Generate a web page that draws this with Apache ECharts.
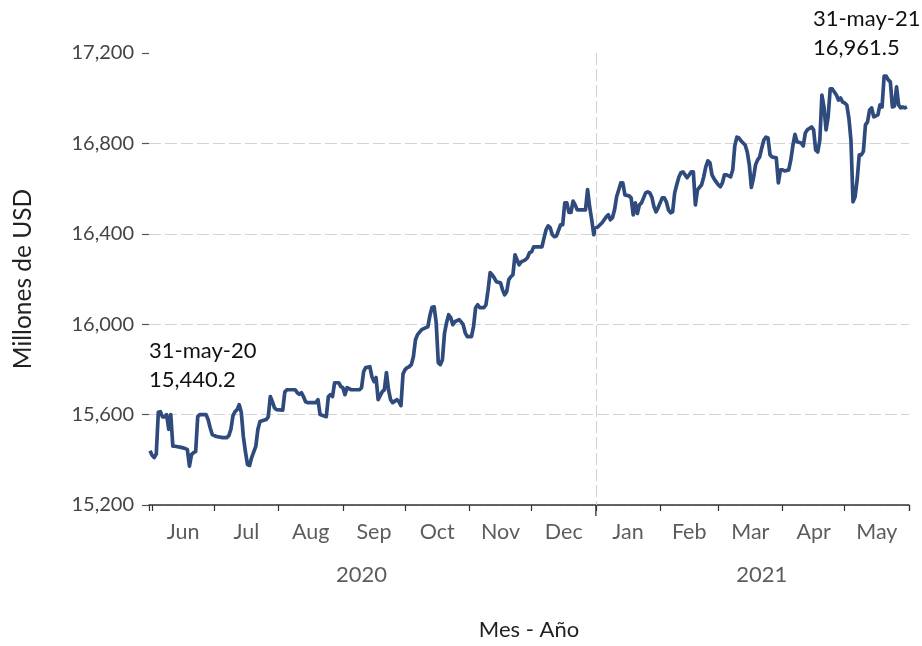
<!DOCTYPE html>
<html>
<head>
<meta charset="utf-8">
<script src="https://cdn.jsdelivr.net/npm/echarts@6/dist/echarts.min.js"></script>
<style>
  html, body { margin: 0; padding: 0; background: #fff; }
  #chart { width: 922px; height: 646px; }
</style>
</head>
<body>
<div id="chart"></div>
<script>
// serie diaria (lectura aproximada del gráfico), millones de USD
var fechas = [
  '2020-05-31','2020-06-01','2020-06-02','2020-06-03','2020-06-04','2020-06-05','2020-06-06','2020-06-07','2020-06-08','2020-06-09',
  '2020-06-10','2020-06-11','2020-06-12','2020-06-15','2020-06-17','2020-06-18','2020-06-19','2020-06-20','2020-06-21','2020-06-22',
  '2020-06-23','2020-06-24','2020-06-27','2020-06-28','2020-06-29','2020-06-30','2020-07-02','2020-07-05','2020-07-07','2020-07-08',
  '2020-07-09','2020-07-10','2020-07-11','2020-07-12','2020-07-13','2020-07-14','2020-07-15','2020-07-16','2020-07-17','2020-07-18',
  '2020-07-19','2020-07-21','2020-07-22','2020-07-23','2020-07-26','2020-07-27','2020-07-28','2020-07-29','2020-07-30','2020-07-31',
  '2020-08-03','2020-08-04','2020-08-05','2020-08-09','2020-08-10','2020-08-11','2020-08-12','2020-08-13','2020-08-14','2020-08-15',
  '2020-08-19','2020-08-20','2020-08-21','2020-08-24','2020-08-25','2020-08-26','2020-08-27','2020-08-28','2020-08-30','2020-08-31',
  '2020-09-01','2020-09-02','2020-09-03','2020-09-05','2020-09-09','2020-09-10','2020-09-11','2020-09-12','2020-09-14','2020-09-15',
  '2020-09-16','2020-09-17','2020-09-18','2020-09-20','2020-09-21','2020-09-22','2020-09-23','2020-09-24','2020-09-25','2020-09-27',
  '2020-09-28','2020-09-29','2020-09-30','2020-10-01','2020-10-02','2020-10-03','2020-10-04','2020-10-05','2020-10-06','2020-10-07',
  '2020-10-09','2020-10-11','2020-10-12','2020-10-13','2020-10-14','2020-10-15','2020-10-16','2020-10-17','2020-10-18','2020-10-19',
  '2020-10-20','2020-10-21','2020-10-22','2020-10-23','2020-10-24','2020-10-25','2020-10-27','2020-10-28','2020-10-29','2020-10-30',
  '2020-10-31','2020-11-02','2020-11-03','2020-11-04','2020-11-05','2020-11-06','2020-11-08','2020-11-09','2020-11-10','2020-11-11',
  '2020-11-12','2020-11-13','2020-11-14','2020-11-16','2020-11-17','2020-11-18','2020-11-19','2020-11-20','2020-11-21','2020-11-22',
  '2020-11-23','2020-11-24','2020-11-25','2020-11-26','2020-11-28','2020-11-29','2020-11-30','2020-12-01','2020-12-02','2020-12-06',
  '2020-12-07','2020-12-08','2020-12-09','2020-12-10','2020-12-11','2020-12-12','2020-12-13','2020-12-15','2020-12-16','2020-12-17',
  '2020-12-18','2020-12-19','2020-12-20','2020-12-21','2020-12-22','2020-12-23','2020-12-24','2020-12-27','2020-12-28','2020-12-29',
  '2020-12-30','2020-12-31','2021-01-01','2021-01-02','2021-01-03','2021-01-04','2021-01-05','2021-01-06','2021-01-07','2021-01-08',
  '2021-01-09','2021-01-10','2021-01-11','2021-01-12','2021-01-13','2021-01-14','2021-01-15','2021-01-17','2021-01-18','2021-01-19',
  '2021-01-20','2021-01-21','2021-01-22','2021-01-23','2021-01-24','2021-01-25','2021-01-26','2021-01-27','2021-01-28','2021-01-29',
  '2021-01-30','2021-01-31','2021-02-01','2021-02-02','2021-02-03','2021-02-04','2021-02-05','2021-02-06','2021-02-07','2021-02-08',
  '2021-02-09','2021-02-10','2021-02-11','2021-02-12','2021-02-14','2021-02-16','2021-02-17','2021-02-18','2021-02-19','2021-02-21',
  '2021-02-22','2021-02-23','2021-02-24','2021-02-25','2021-02-26','2021-02-27','2021-02-28','2021-03-01','2021-03-02','2021-03-03',
  '2021-03-04','2021-03-05','2021-03-07','2021-03-08','2021-03-09','2021-03-10','2021-03-11','2021-03-12','2021-03-13','2021-03-14',
  '2021-03-15','2021-03-16','2021-03-17','2021-03-18','2021-03-19','2021-03-20','2021-03-21','2021-03-22','2021-03-23','2021-03-24',
  '2021-03-25','2021-03-26','2021-03-27','2021-03-29','2021-03-30','2021-03-31','2021-04-01','2021-04-02','2021-04-04','2021-04-05',
  '2021-04-06','2021-04-07','2021-04-08','2021-04-10','2021-04-11','2021-04-12','2021-04-13','2021-04-15','2021-04-16','2021-04-17',
  '2021-04-18','2021-04-19','2021-04-20','2021-04-21','2021-04-22','2021-04-23','2021-04-24','2021-04-25','2021-04-27','2021-04-28',
  '2021-04-29','2021-04-30','2021-05-01','2021-05-02','2021-05-03','2021-05-04','2021-05-05','2021-05-06','2021-05-07','2021-05-08',
  '2021-05-09','2021-05-10','2021-05-11','2021-05-12','2021-05-13','2021-05-14','2021-05-15','2021-05-16','2021-05-17','2021-05-18',
  '2021-05-19','2021-05-20','2021-05-21','2021-05-22','2021-05-23','2021-05-24','2021-05-25','2021-05-26','2021-05-27','2021-05-28',
  '2021-05-29','2021-05-30','2021-05-31'
];
var valores = [
  15440.2,15420,15410,15425,15610,15613,15590,15590,15600,15535,
  15600,15460,15460,15455,15450,15445,15372,15423,15432,15436,
  15591,15600,15600,15578,15542,15512,15503,15498,15498,15507,
  15535,15595,15613,15622,15644,15610,15503,15436,15379,15375,
  15410,15459,15534,15569,15578,15590,15680,15657,15630,15622,
  15620,15700,15710,15710,15697,15690,15697,15680,15657,15653,
  15653,15666,15600,15591,15680,15688,15680,15741,15741,15724,
  15719,15688,15719,15710,15710,15719,15790,15808,15812,15768,
  15746,15764,15666,15702,15710,15786,15710,15666,15653,15666,
  15657,15640,15780,15799,15808,15812,15821,15856,15931,15954,
  15976,15985,15989,16040,16075,16077,16007,15830,15821,15843,
  15960,16007,16042,16029,15998,16011,16020,16011,15998,15962,
  15945,15945,15989,16073,16086,16073,16073,16086,16150,16228,
  16219,16205,16188,16183,16152,16130,16144,16197,16210,16219,
  16307,16285,16263,16276,16285,16294,16316,16320,16342,16342,
  16382,16418,16435,16426,16396,16387,16391,16440,16440,16537,
  16537,16495,16495,16545,16528,16506,16506,16506,16596,16519,
  16462,16396,16426,16431,16440,16449,16462,16475,16484,16462,
  16471,16506,16564,16594,16625,16625,16572,16568,16559,16484,
  16537,16490,16528,16537,16559,16581,16586,16581,16562,16520,
  16497,16515,16537,16559,16559,16541,16506,16493,16497,16581,
  16617,16650,16670,16674,16648,16674,16674,16528,16594,16617,
  16652,16696,16723,16714,16661,16643,16630,16617,16608,16625,
  16661,16661,16652,16683,16790,16828,16824,16811,16802,16793,
  16762,16705,16605,16647,16705,16727,16740,16780,16815,16828,
  16824,16749,16740,16736,16625,16683,16683,16678,16683,16727,
  16790,16840,16807,16802,16789,16846,16860,16873,16860,16771,
  16762,16815,17014,16961,16860,16917,17041,17041,17014,16992,
  17001,16983,16979,16970,16913,16815,16541,16564,16639,16749,
  16749,16765,16882,16895,16948,16957,16917,16922,16926,16970,
  16961,17098,17098,17081,17072,16961,16965,17050,16970,16957,
  16961,16957,16961.5
];

var meses = ['Jun','Jul','Aug','Sep','Oct','Nov','Dec','Jan','Feb','Mar','Apr','May'];
var iniciosMes = ['2020-06-01','2020-07-01','2020-08-01','2020-09-01','2020-10-01','2020-11-01','2020-12-01',
                  '2021-01-01','2021-02-01','2021-03-01','2021-04-01','2021-05-01','2021-06-01'];
var anios = ['2020','2021'];
var fechasAnio = ['2020-09-10','2021-03-22'];
var yTicks = { min: 15200, max: 17200, interval: 400 };

var fontFam = 'Lato, "Open Sans", sans-serif';
var lineColor = '#2f4a7c';

var serie = fechas.map(function (f, i) { return [f, valores[i]]; });

// etiquetas de mes centradas entre los inicios de mes
var etiquetasMes = meses.map(function (m, i) {
  var a = new Date(iniciosMes[i] + 'T00:00:00').getTime();
  var b = new Date(iniciosMes[i + 1] + 'T00:00:00').getTime();
  return [(a + b) / 2, yTicks.min, m];
});
var etiquetasAnio = anios.map(function (a, i) { return [fechasAnio[i], yTicks.min, a]; });

function fmt(v) {
  return v.toLocaleString('en-US', { minimumFractionDigits: 1, maximumFractionDigits: 1 });
}

var chart = echarts.init(document.getElementById('chart'));
var option = {
  animation: false,
  backgroundColor: '#fff',
  grid: { left: 149, right: 13, top: 53, bottom: 140 },
  xAxis: {
    type: 'time',
    min: '2020-05-30T12:00:00',
    max: '2021-06-01T00:00:00',
    splitNumber: 12,
    minInterval: 28 * 86400000,
    maxInterval: 31 * 86400000,
    name: 'Mes - Año',
    nameLocation: 'middle',
    nameGap: 114,
    nameTextStyle: { fontFamily: fontFam, fontSize: 22, color: '#222' },
    axisLine: { show: true, lineStyle: { color: '#333', width: 1.5 } },
    axisTick: { show: true, length: 6, lineStyle: { color: '#333', width: 1.2 } },
    axisLabel: { show: false },
    splitLine: { show: false }
  },
  yAxis: {
    type: 'value',
    min: yTicks.min,
    max: yTicks.max,
    interval: yTicks.interval,
    name: 'Millones de USD',
    nameLocation: 'middle',
    nameGap: 113,
    nameTextStyle: { fontFamily: fontFam, fontSize: 24.5, color: '#222' },
    axisLine: { show: false },
    axisTick: { show: true, length: 7, lineStyle: { color: '#555', width: 1.2 } },
    axisLabel: {
      fontFamily: fontFam, fontSize: 20, color: '#444', margin: 15,
      padding: [0, 0, 6, 0],
      formatter: function (v) { return v.toLocaleString('en-US'); }
    },
    splitLine: {
      show: true, showMaxLine: false,
      lineStyle: { color: '#d3d3d3', width: 1, type: [12, 4] }
    }
  },
  series: [
    {
      type: 'line',
      data: serie,
      showSymbol: false,
      symbol: 'none',
      lineStyle: { color: lineColor, width: 3.7, join: 'round' },
      markLine: {
        silent: true,
        symbol: 'none',
        label: { show: false },
        lineStyle: { color: '#d3d3d3', width: 1, type: [12, 4] },
        data: [[{ coord: ['2021-01-01', yTicks.max] }, { coord: ['2021-01-01', yTicks.min] }]]
      },
      markPoint: {
        symbol: 'circle',
        symbolSize: 0,
        itemStyle: { color: 'transparent' },
        label: {
          show: true, position: 'inside', align: 'left', verticalAlign: 'middle',
          fontFamily: fontFam, fontSize: 22, color: '#111', lineHeight: 29
        },
        data: [
          { coord: [fechas[0], valores[0]], label: { offset: [-1, -85], formatter: '31-may-20\n' + fmt(valores[0]) } },
          { coord: [fechas[fechas.length - 1], valores[valores.length - 1]],
            label: { offset: [-94, -73], formatter: '31-may-21\n' + fmt(valores[valores.length - 1]) } }
        ]
      }
    },
    {
      // tick largo en el cambio de año
      type: 'custom',
      silent: true,
      clip: false,
      data: [['2021-01-01', yTicks.min]],
      renderItem: function (params, api) {
        var p = api.coord([api.value(0), api.value(1)]);
        return { type: 'line', shape: { x1: p[0], y1: p[1], x2: p[0], y2: p[1] + 11 },
                 style: { stroke: '#333', lineWidth: 1.3 } };
      }
    },
    {
      type: 'scatter',
      silent: true,
      clip: false,
      symbolSize: 1,
      itemStyle: { color: 'transparent' },
      data: etiquetasMes,
      label: {
        show: true, position: 'bottom', distance: 16,
        fontFamily: fontFam, fontSize: 21.5, color: '#333',
        formatter: function (p) { return p.value[2]; }
      }
    },
    {
      type: 'scatter',
      silent: true,
      clip: false,
      symbolSize: 1,
      itemStyle: { color: 'transparent' },
      data: etiquetasAnio,
      label: {
        show: true, position: 'bottom', distance: 58,
        fontFamily: fontFam, fontSize: 22, color: '#333',
        formatter: function (p) { return p.value[2]; }
      }
    }
  ]
};
chart.setOption(option);
</script>
</body>
</html>
